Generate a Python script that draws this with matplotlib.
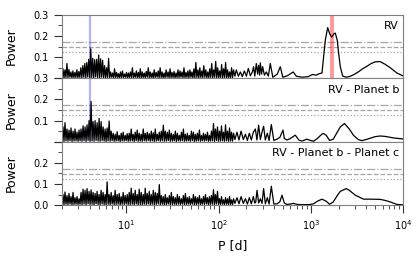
import numpy as np
import matplotlib.pyplot as plt

# axis range and reference levels
x_min, x_max = 2, 1e4
short_end = 145
fap_levels = [0.172, 0.148, 0.124]
fap_styles = ['-.', '--', ':']
planet_b_period = 4.05
planet_c_period = 1706

panel_titles = ['RV', 'RV - Planet b', 'RV - Planet b - Planet c']

# minima between the dense short-period peaks (shared by the panels)
troughs = [0.003, 0.001, 0.004, 0.002, 0.005, 0.001, 0.003, 0.004, 0.002, 0.004,
           0.002, 0.005, 0.001, 0.006, 0.003, 0.004, 0.002, 0.006, 0.003, 0.002,
           0.005, 0.003, 0.001, 0.004, 0.002, 0.005, 0.002, 0.003, 0.004, 0.001,
           0.004, 0.003, 0.005, 0.002, 0.003, 0.004, 0.001, 0.005, 0.002, 0.003,
           0.002, 0.004, 0.003, 0.005, 0.002, 0.004, 0.001, 0.003, 0.005, 0.002,
           0.004, 0.002, 0.003, 0.005, 0.002, 0.003, 0.004, 0.001, 0.004, 0.003,
           0.005, 0.002, 0.003, 0.004, 0.002, 0.005, 0.001, 0.003, 0.004, 0.002,
           0.004, 0.003, 0.005, 0.002, 0.003, 0.004, 0.001, 0.005, 0.002, 0.003,
           0.004, 0.002, 0.004, 0.002, 0.003, 0.003, 0.004]

# RV: peak heights from 2 d to 145 d
rv_peaks = [0.045, 0.04, 0.07, 0.042,
            0.03, 0.035, 0.028, 0.04, 0.032,
            0.05, 0.06, 0.07, 0.075,
            0.09, 0.14, 0.095, 0.088, 0.09, 0.11, 0.092, 0.085,
            0.06, 0.05, 0.094,
            0.03, 0.025, 0.045, 0.028, 0.022, 0.03, 0.035, 0.02, 0.028, 0.025,
            0.03, 0.05, 0.025, 0.035, 0.028, 0.045, 0.03, 0.025, 0.032, 0.05,
            0.03, 0.025, 0.04, 0.028, 0.035, 0.05, 0.03, 0.025, 0.04, 0.03,
            0.045, 0.028, 0.032, 0.025, 0.04, 0.035, 0.03, 0.05, 0.028, 0.035,
            0.04, 0.03, 0.045,
            0.075, 0.04, 0.05, 0.035, 0.06, 0.04, 0.03, 0.045, 0.07, 0.04,
            0.08, 0.05, 0.035, 0.065, 0.045, 0.075, 0.04, 0.03, 0.05, 0.04]
rv_long_period = [150, 155.5, 163.5, 172, 180.6, 189.8, 200, 209.8, 220.5, 232,
                  239, 246.6, 256, 264.5, 271, 278, 283, 292, 300, 313,
                  329, 345.6, 363, 386.5, 432.5, 466, 496, 555, 644, 695,
                  807, 937, 1036, 1144, 1233, 1319, 1366, 1433, 1520, 1602,
                  1683, 1772, 1839, 1932, 1998, 2083, 2211, 2418, 2606, 2880,
                  3264, 3697, 4083, 4512, 4986, 5648, 6397, 7250, 8570, 10000]
rv_long_power = [0.01, 0.04, 0.01, 0.03, 0.008, 0.035, 0.01, 0.047, 0.012, 0.03,
                 0.055, 0.01, 0.07, 0.02, 0.062, 0.015, 0.073, 0.02, 0.055, 0.015,
                 0.03, 0.01, 0.07, 0.005, 0.02, 0.055, 0.005, 0.012, 0.03, 0.01,
                 0.005, 0.008, 0.018, 0.015, 0.022, 0.025, 0.09, 0.18, 0.24, 0.21,
                 0.195, 0.21, 0.214, 0.18, 0.12, 0.055, 0.011, 0.005, 0.008, 0.016,
                 0.03, 0.047, 0.058, 0.07, 0.078, 0.079, 0.066, 0.05, 0.025, 0.011]

# RV - Planet b
b_peaks = [0.07, 0.09, 0.06,
           0.055, 0.065, 0.05, 0.06, 0.045, 0.055,
           0.06, 0.075, 0.07, 0.08,
           0.1, 0.19, 0.095, 0.1, 0.09, 0.11, 0.095,
           0.07, 0.06, 0.065, 0.098, 0.05,
           0.04, 0.035, 0.047, 0.03, 0.04, 0.045, 0.03, 0.038,
           0.04, 0.06, 0.035, 0.045, 0.055, 0.04, 0.035, 0.06, 0.04, 0.045,
           0.038, 0.05, 0.042, 0.06, 0.035, 0.045, 0.05,
           0.078, 0.05, 0.045, 0.055, 0.04,
           0.035, 0.05, 0.04, 0.03, 0.045, 0.06, 0.035, 0.04, 0.03, 0.05,
           0.045, 0.035, 0.04, 0.055, 0.03, 0.04, 0.035, 0.045, 0.03, 0.05,
           0.086, 0.06, 0.07, 0.05, 0.075, 0.045, 0.08, 0.05, 0.065, 0.045, 0.04]
b_long_period = [150, 158, 166, 175, 185, 195, 205, 215, 226, 237.7,
                 250, 260, 271.3, 283, 295, 307.3, 320.6, 337, 352, 372.4,
                 396.3, 429.3, 460, 498.6, 515, 551, 598, 677.7, 740, 801,
                 907.6, 985, 1070, 1173, 1319, 1366, 1469, 1594, 1748, 1932,
                 2083, 2317, 2606, 2901, 3264, 3579, 4083, 4986, 5648, 6397,
                 7812, 10000]
b_long_power = [0.01, 0.045, 0.008, 0.05, 0.01, 0.035, 0.006, 0.04, 0.008, 0.045,
                0.06, 0.008, 0.078, 0.01, 0.045, 0.073, 0.008, 0.04, 0.006, 0.081,
                0.006, 0.012, 0.02, 0.055, 0.015, 0.008, 0.015, 0.031, 0.008, 0.003,
                0.012, 0.006, 0.002, 0.015, 0.036, 0.039, 0.03, 0.006, 0.012, 0.045,
                0.07, 0.086, 0.06, 0.03, 0.01, 0.005, 0.012, 0.024, 0.027, 0.025,
                0.018, 0.013]

# RV - Planet b - Planet c
c_peaks = [0.05, 0.062, 0.045, 0.055, 0.04, 0.06,
           0.035, 0.04, 0.03,
           0.06, 0.075, 0.07, 0.078, 0.065, 0.072, 0.06,
           0.055, 0.065, 0.05, 0.07, 0.06, 0.05, 0.11,
           0.05, 0.06, 0.045, 0.07, 0.05, 0.055, 0.04, 0.06, 0.045, 0.05,
           0.06, 0.08, 0.055, 0.07, 0.05, 0.075, 0.06, 0.05, 0.08, 0.055,
           0.065, 0.05, 0.07, 0.06, 0.055, 0.097,
           0.045, 0.04, 0.05, 0.035, 0.045, 0.06, 0.04, 0.035, 0.05, 0.04,
           0.03, 0.045, 0.055, 0.035, 0.04, 0.03, 0.05, 0.04, 0.035, 0.045,
           0.03, 0.04, 0.05, 0.035, 0.04,
           0.045, 0.073, 0.05, 0.065, 0.03, 0.04, 0.025, 0.035, 0.03, 0.04,
           0.025, 0.03]
c_long_period = [150, 158, 166, 175, 185, 195, 205, 215, 226, 237.7,
                 246, 252, 260.6, 271.3, 283, 295, 307.3, 320.6, 337, 352,
                 372.4, 396.3, 429.3, 460, 486.3, 515, 551, 598, 649, 712,
                 801, 907, 985, 1070, 1173, 1319, 1469, 1594, 1748, 1932,
                 2083, 2418, 2606, 3027, 3724, 4512, 5648, 6397, 7250, 8570,
                 10000]
c_long_power = [0.008, 0.035, 0.006, 0.04, 0.008, 0.03, 0.005, 0.035, 0.006, 0.04,
                0.01, 0.012, 0.07, 0.01, 0.03, 0.008, 0.078, 0.006, 0.035, 0.005,
                0.089, 0.005, 0.006, 0.015, 0.047, 0.01, 0.003, 0.005, 0.008, 0.003,
                0.002, 0.002, 0.003, 0.006, 0.018, 0.028, 0.018, 0.004, 0.015, 0.045,
                0.065, 0.078, 0.07, 0.047, 0.028, 0.028, 0.027, 0.022, 0.015, 0.003,
                0.001]


def build(peaks, long_period, long_power):
    n = len(peaks)
    short_power = np.column_stack([troughs[:n], peaks]).ravel()
    short_period = np.geomspace(x_min, short_end, 2 * n)
    return (np.concatenate([short_period, long_period]),
            np.concatenate([short_power, long_power]))


panels = [build(rv_peaks, rv_long_period, rv_long_power),
          build(b_peaks, b_long_period, b_long_power),
          build(c_peaks, c_long_period, c_long_power)]

fig, axes = plt.subplots(3, 1, sharex=True, figsize=(4.16, 2.57), dpi=100)
fig.subplots_adjust(left=0.149, right=0.969, top=0.942, bottom=0.202, hspace=0)

for i, ax in enumerate(axes):
    period, power = panels[i]
    for lev, ls in zip(fap_levels, fap_styles):
        ax.axhline(lev, color='0.65', linestyle=ls, linewidth=0.9, zorder=1)
    if i < 2:
        ax.axvline(planet_b_period, color='blue', alpha=0.3, linewidth=1.6, zorder=1)
    if i == 0:
        ax.axvline(planet_c_period, color='red', alpha=0.4, linewidth=2.8, zorder=1)
    ax.plot(period, power, color='black', linewidth=0.9, zorder=2)
    ax.set_xscale('log')
    ax.set_xlim(x_min, x_max)
    ax.set_ylim(0, 0.3)
    ax.set_yticks([0, 0.1, 0.2, 0.3])
    ax.set_yticks([0.05, 0.15, 0.25], minor=True)
    if i < 2:
        ax.set_yticklabels(['', '0.1', '0.2', '0.3'])
        ax.tick_params(axis='x', which='both', bottom=False, labelbottom=False)
    else:
        ax.set_yticklabels(['0.0', '0.1', '0.2', ''])
    ax.text(0.988, 0.9, panel_titles[i], transform=ax.transAxes,
            ha='right', va='top', fontsize=8)
    ax.set_ylabel('Power', fontsize=9)
    ax.yaxis.set_label_coords(-0.129, 0.5)
    for s in ax.spines.values():
        s.set_color('0.5')
        s.set_linewidth(0.8)
    ax.tick_params(which='major', length=5.5, width=0.8, labelsize=7, pad=4,
                   color='0.2')
    ax.tick_params(which='minor', length=3, width=0.6, color='0.2')

axes[2].set_xlabel('P [d]', fontsize=9, labelpad=5)

fig.savefig('out.png', dpi=100)
